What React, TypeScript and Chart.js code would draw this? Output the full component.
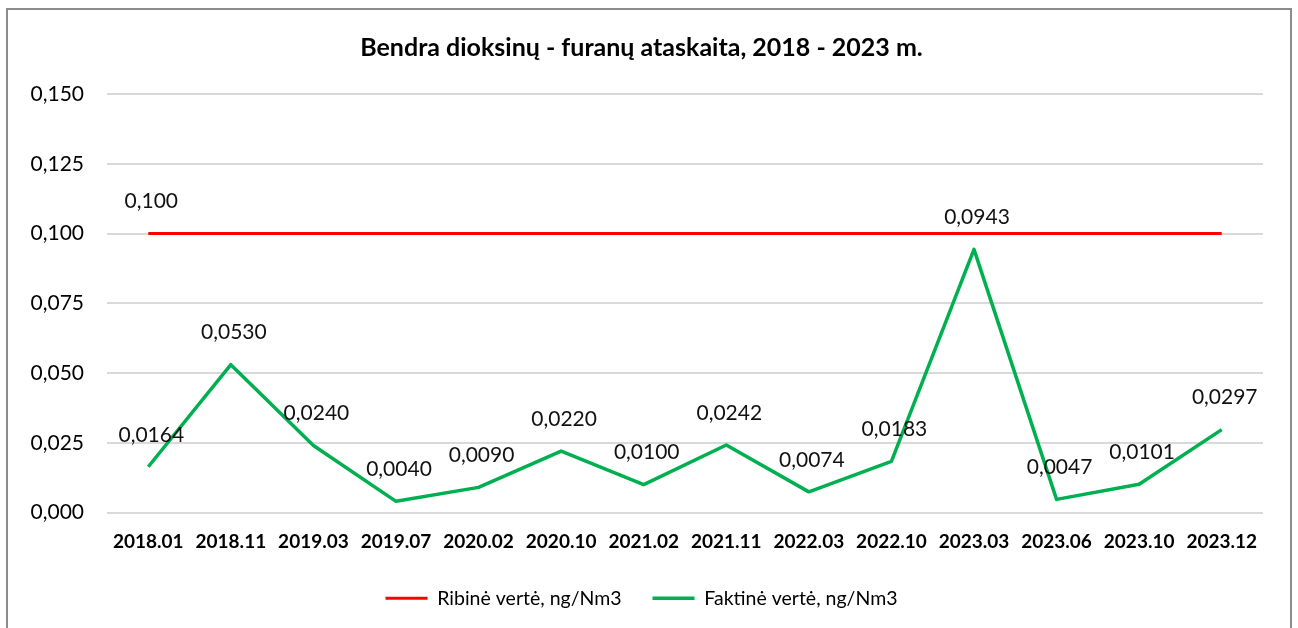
import React, { useEffect, useRef } from "react";
import { Chart, registerables } from "chart.js";

Chart.register(...registerables);

const categories = [
  "2018.01", "2018.11", "2019.03", "2019.07", "2020.02", "2020.10", "2021.02",
  "2021.11", "2022.03", "2022.10", "2023.03", "2023.06", "2023.10", "2023.12",
];
const limitValues = [0.1, 0.1, 0.1, 0.1, 0.1, 0.1, 0.1, 0.1, 0.1, 0.1, 0.1, 0.1, 0.1, 0.1];
const actualValues = [
  0.0164, 0.053, 0.024, 0.004, 0.009, 0.022, 0.01, 0.0242, 0.0074, 0.0183, 0.0943, 0.0047, 0.0101, 0.0297,
];
const limitLabel = "Ribinė vertė, ng/Nm3";
const actualLabel = "Faktinė vertė, ng/Nm3";
const titleText = "Bendra dioksinų - furanų ataskaita, 2018 - 2023 m.";
const yMin = 0;
const yMax = 0.15;
const yStep = 0.025;

const FONT = "Lato, 'Open Sans', sans-serif";

const fmt = (v: number, d: number) => v.toFixed(d).replace(".", ",");

const framePlugin = {
  id: "frame",
  beforeDraw(chart: any) {
    const ctx = chart.ctx;
    ctx.save();
    ctx.fillStyle = "#ffffff";
    ctx.fillRect(0, 0, chart.width, chart.height);
    ctx.strokeStyle = "#8c8c8c";
    ctx.lineWidth = 2;
    ctx.strokeRect(7, 9, 1284, 700);
    ctx.restore();
  },
};

const labelPlugin = {
  id: "pointLabels",
  afterDatasetsDraw(chart: any) {
    const ctx = chart.ctx;
    ctx.save();
    ctx.font = `21px ${FONT}`;
    ctx.fillStyle = "#111111";
    ctx.textAlign = "center";
    ctx.textBaseline = "middle";
    chart.data.datasets.forEach((ds: any, di: number) => {
      const meta = chart.getDatasetMeta(di);
      meta.data.forEach((pt: any, i: number) => {
        if (di === 0 && i !== 0) return;
        const v = ds.data[i] as number;
        const txt = di === 0 ? fmt(v, 3) : fmt(v, 4);
        ctx.fillText(txt, pt.x + 3, pt.y - 32);
      });
    });
    ctx.restore();
  },
};

export default function App() {
  const ref = useRef<HTMLCanvasElement | null>(null);
  useEffect(() => {
    if (!ref.current) return;
    const chart = new Chart(ref.current, {
      type: "line",
      data: {
        labels: categories,
        datasets: [
          {
            label: limitLabel,
            data: limitValues,
            borderColor: "#ff0000",
            backgroundColor: "#ff0000",
            borderWidth: 3,
            pointRadius: 0,
            tension: 0,
          },
          {
            label: actualLabel,
            data: actualValues,
            borderColor: "#00b050",
            backgroundColor: "#00b050",
            borderWidth: 3.5,
            pointRadius: 0,
            tension: 0,
            borderJoinStyle: "round",
          },
        ],
      },
      options: {
        responsive: false,
        animation: false,
        layout: { padding: { left: 20, right: 35, top: 0, bottom: 10 } },
        plugins: {
          title: {
            display: true,
            text: titleText,
            color: "#000",
            font: { family: FONT, size: 25, weight: "bold", lineHeight: 1.2 },
            padding: { top: 33, bottom: 31 },
          },
          legend: {
            position: "bottom",
            labels: {
              color: "#000",
              font: { family: FONT, size: 19.5 },
              usePointStyle: true,
              pointStyle: "line",
              pointStyleWidth: 42,
              padding: 31,
            },
          },
          tooltip: { enabled: false },
        },
        scales: {
          x: {
            offset: true,
            grid: { display: false, drawTicks: false },
            border: { display: false },
            ticks: {
              color: "#000",
              font: { family: FONT, size: 19, weight: "bold" },
              padding: 18,
              maxRotation: 0,
              autoSkip: false,
            },
            afterFit: (s: any) => {
              s.height = 45;
            },
          },
          y: {
            min: yMin,
            max: yMax,
            grid: { color: "#d9d9d9", lineWidth: 2, drawTicks: false },
            border: { display: false },
            ticks: {
              stepSize: yStep,
              color: "#000",
              font: { family: FONT, size: 21 },
              padding: 23,
              callback: (v: any) => fmt(Number(v), 3),
            },
            afterFit: (s: any) => {
              s.width = 87;
            },
          },
        },
      },
      plugins: [framePlugin, labelPlugin],
    });
    return () => chart.destroy();
  }, []);
  return (
    <div style={{ position: "absolute", left: 0, top: 0, width: 1298, height: 628 }}>
      <canvas ref={ref} width={1298} height={628} />
    </div>
  );
}
